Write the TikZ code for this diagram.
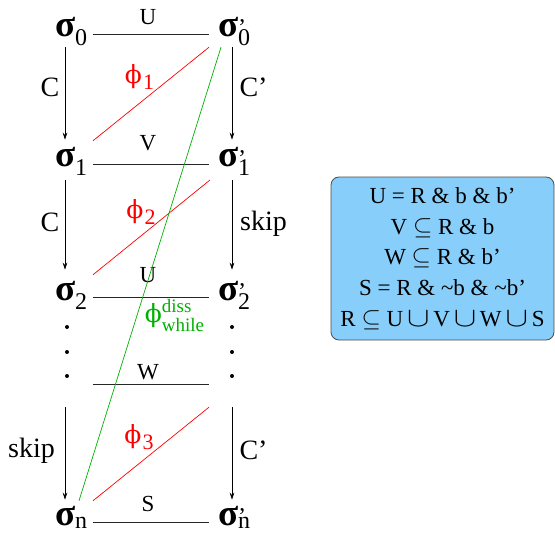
\documentclass[tikz,border=0pt]{standalone}
\usepackage{fontspec}
\setmainfont{Liberation Serif}
\newfontfamily\phifont{DejaVu Serif}
\usetikzlibrary{arrows.meta}
\definecolor{boxblue}{RGB}{135,206,250}
\definecolor{dgreen}{RGB}{0,176,0}
\newcommand\sgA[2]{{\fontsize{37}{37}\selectfont\bfseries σ}{\fontsize{24}{24}\selectfont\raisebox{-#2}{#1}}}
\newcommand\sgB[2]{{\fontsize{37}{37}\selectfont\bfseries σ}{\fontsize{24}{24}\selectfont\rlap{\raisebox{1pt}{’}}\raisebox{-#2}{#1}}}
\newcommand\phlab[1]{{\fontsize{25}{25}\phifont ϕ}{\fontsize{22}{22}\selectfont\kern1pt\raisebox{-6pt}{#1}}}
\newcommand\bigcupsym{\,\scalebox{1.35}[1.1]{$\cup$}\,}
\begin{document}
\begin{tikzpicture}[x=1pt,y=-1pt,
  sig/.style={inner sep=0pt,outer sep=0pt,font=\fontsize{37}{37}\selectfont,anchor=base west},
  hlab/.style={inner sep=0pt,font=\fontsize{23}{23}\selectfont},
  vlab/.style={inner sep=0pt,font=\fontsize{28}{28}\selectfont},
  philab/.style={inner sep=0pt,text=red},
  dotn/.style={circle,fill=black,inner sep=0pt,minimum size=4pt},
  hl/.style={line width=0.8pt,black!85},
  arr/.style={line width=0.7pt,-{Stealth[length=7pt,width=4.5pt]}},
  redl/.style={red,line width=0.7pt},
  grnl/.style={dgreen,line width=0.7pt},
  infobox/.style={draw=black!70,line width=0.8pt,fill=boxblue,rounded corners=8pt,
    minimum width=223pt,minimum height=163pt,align=center,inner sep=0pt,
    font=\fontsize{23}{30.7}\selectfont}]
\useasboundingbox (0,0) rectangle (555,535);
% sigma nodes
\node[sig] (s0)  at (55,37)  {\sgA{0}{9pt}};
\node[sig] (s0p) at (218,37) {\sgB{0}{9pt}};
\node[sig] (s1)  at (55,167) {\sgA{1}{9pt}};
\node[sig] (s1p) at (218,167){\sgB{1}{9pt}};
\node[sig] (s2)  at (55,300) {\sgA{2}{9pt}};
\node[sig] (s2p) at (218,300){\sgB{2}{9pt}};
\node[sig] (sn)  at (55,525) {\sgA{n}{3pt}};
\node[sig] (snp) at (218,525){\sgB{n}{3pt}};
% dots
\node[dotn] (dl1) at (67,327) {};
\node[dotn] (dl2) at (67,352) {};
\node[dotn] (dl3) at (67,376) {};
\node[dotn] (dr1) at (232,327) {};
\node[dotn] (dr2) at (232,352) {};
\node[dotn] (dr3) at (232,376) {};
% horizontal lines
\draw[hl] ([xshift=38pt]s0.mid west) -- ([xshift=-9pt]s0p.mid west);
\draw[hl] ([xshift=38pt]s1.mid west) -- ([xshift=-9pt]s1p.mid west);
\draw[hl] ([xshift=38pt]s2.mid west) -- ([xshift=-9pt]s2p.mid west);
\draw[hl] ([xshift=26pt,yshift=-6pt]dl3.south) -- ([xshift=-23pt,yshift=-6pt]dr3.south);
\draw[hl] ([xshift=38pt]sn.mid west) -- ([xshift=-9pt]snp.mid west);
% horizontal labels
\node[hlab] (lu1) at (148,17.5) {U};
\node[hlab] (lv)  at (148,143.5) {V};
\node[hlab] (lu2) at (148,275.5) {U};
\node[hlab] (lw)  at (148,372) {W};
\node[hlab] (ls)  at (148,503.5) {S};
% vertical arrows
\draw[arr] ([xshift=10pt,yshift=-1pt]s0.south west) -- ([xshift=10pt,yshift=8pt]s1.north west);
\draw[arr] ([xshift=14pt,yshift=-1pt]s0p.south west) -- ([xshift=14pt,yshift=8pt]s1p.north west);
\draw[arr] ([xshift=10pt,yshift=-4pt]s1.south west) -- ([xshift=10pt,yshift=11pt]s2.north west);
\draw[arr] ([xshift=14pt,yshift=-4pt]s1p.south west) -- ([xshift=14pt,yshift=11pt]s2p.north west);
\draw[arr] ([xshift=-2pt,yshift=-29pt]dl3.south) -- ([xshift=10pt,yshift=6pt]sn.north west);
\draw[arr] ([yshift=-29pt]dr3.south) -- ([xshift=14pt,yshift=6pt]snp.north west);
% vertical labels
\node[vlab] (lc1)  at (50,87.5) {C};
\node[vlab] (lc1p) at (253.5,87.5) {C’};
\node[vlab] (lc2)  at (50,222) {C};
\node[vlab,anchor=base] (lsk1) at (263.5,230) {skip};
\node[vlab,anchor=base] (lsk2) at (31.5,457) {skip};
\node[vlab] (lc3p) at (253.5,450) {C’};
% red phi lines
\draw[redl] ([xshift=38pt,yshift=7pt]s1.north west) -- ([xshift=-9pt,yshift=-1pt]s0p.south west);
\draw[redl] ([xshift=38pt,yshift=6pt]s2.north west) -- ([xshift=-8pt,yshift=-4pt]s1p.south west);
\draw[redl] ([xshift=38pt,yshift=5pt]sn.north west) -- ([xshift=-23pt,yshift=-29pt]dr3.south);
\node[philab] (p1) at (139.5,77) {\phlab{1}};
\node[philab] (p2) at (141,212) {\phlab{2}};
\node[philab] (p3) at (139,437.5) {\phlab{3}};
% green line
\draw[grnl] ([xshift=3pt,yshift=-1pt]s0p.south west) -- ([xshift=24pt,yshift=5pt]sn.north west);
\node[inner sep=0pt,text=dgreen] (pg) at (174.5,318) {{\fontsize{25}{25}\phifont ϕ}{\fontsize{19}{17}\selectfont\begin{tabular}{@{}l@{}}diss\\while\end{tabular}}};
% info box
\node[infobox] (bx) at (442.5,258.5) {U = R \& b \& b’\\
V $\subseteq$ R \& b\\
W $\subseteq$ R \& b’\\
S = R \& \textasciitilde b \& \textasciitilde b’\\
R $\subseteq$ U\bigcupsym V\bigcupsym W\bigcupsym S};
\end{tikzpicture}
\end{document}
